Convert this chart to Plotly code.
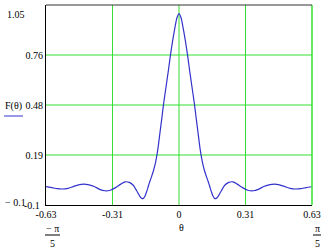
import math
import plotly.graph_objects as go

# ---- data ----
theta = [-0.628, -0.600, -0.575, -0.550, -0.525, -0.500, -0.475, -0.450, -0.425,
         -0.400, -0.375, -0.350, -0.325, -0.300, -0.275, -0.255, -0.235, -0.215,
         -0.200, -0.185, -0.176, -0.168, -0.160, -0.152, -0.145, -0.137, -0.130,
         -0.120, -0.110, -0.100, -0.090, -0.080, -0.073, -0.060, -0.050, -0.040,
         -0.030, -0.020, -0.010, 0.000,
         0.010, 0.020, 0.030, 0.040, 0.050, 0.060, 0.073, 0.080, 0.090, 0.100,
         0.110, 0.120, 0.130, 0.137, 0.145, 0.152, 0.160, 0.168, 0.176, 0.185,
         0.200, 0.215, 0.235, 0.255, 0.275, 0.300, 0.325, 0.350, 0.375, 0.400,
         0.425, 0.450, 0.475, 0.500, 0.525, 0.550, 0.575, 0.600, 0.628]
F = [0.006, 0.000, -0.006, -0.008, -0.004, 0.006, 0.016, 0.020, 0.016,
     0.006, -0.010, -0.018, -0.015, 0.000, 0.020, 0.033, 0.030, 0.012,
     -0.018, -0.050, -0.062, -0.062, -0.047, -0.020, 0.008, 0.038, 0.062,
     0.100, 0.150, 0.220, 0.315, 0.410, 0.480, 0.590, 0.675, 0.765,
     0.845, 0.915, 0.975, 1.000,
     0.975, 0.915, 0.845, 0.765, 0.675, 0.590, 0.480, 0.410, 0.315, 0.220,
     0.150, 0.100, 0.062, 0.038, 0.008, -0.020, -0.047, -0.062, -0.062, -0.050,
     -0.018, 0.012, 0.030, 0.033, 0.020, 0.000, -0.015, -0.018, -0.010, 0.006,
     0.016, 0.020, 0.016, 0.006, -0.004, -0.008, -0.006, 0.000, 0.005]

x_range = [-math.pi / 5, math.pi / 5]
y_range = [-0.1, 1.05]
x_tick_vals = [-math.pi / 5, -math.pi / 10, 0, math.pi / 10, math.pi / 5]
x_tick_text = ["-0.63", "-0.31", "0", "0.31", "0.63"]
y_tick_vals = [0.1875, 0.475, 0.7625]
y_tick_text = ["0.19", "0.48", "0.76"]

W, H = 327, 252
L, R, T, B = 46, 15, 5, 47
PW, PH = W - L - R, H - T - B

def px(x):
    return (x - L) / PW

def py(y):
    return (H - B - y) / PH

FONT = dict(family="Liberation Serif", size=10, color="black")
CURVE = "#3333cc"
GRID = "#33e033"

fig = go.Figure()
fig.add_trace(go.Scatter(x=theta, y=F, mode="lines",
                         line=dict(color=CURVE, width=1.2, shape="spline", smoothing=0.6),
                         showlegend=False, hoverinfo="skip"))

fig.update_layout(
    width=W, height=H,
    margin=dict(l=L, r=R, t=T, b=B),
    paper_bgcolor="white", plot_bgcolor="white",
    font=FONT,
    xaxis=dict(range=x_range, tickvals=x_tick_vals, ticktext=x_tick_text,
               showgrid=False, zeroline=False,
               showline=True, linecolor="black", linewidth=1, ticks="",
               tickfont=FONT, fixedrange=True),
    yaxis=dict(range=y_range, tickvals=y_tick_vals, ticktext=y_tick_text,
               showgrid=False, zeroline=False,
               showline=True, linecolor="black", linewidth=1, ticks="",
               tickfont=FONT, fixedrange=True),
)

shapes = []
for xv in x_tick_vals[1:-1]:
    shapes.append(dict(type="line", xref="x", yref="paper", x0=xv, x1=xv, y0=0, y1=1,
                       line=dict(color=GRID, width=1), layer="below"))
for yv in y_tick_vals:
    shapes.append(dict(type="line", xref="paper", yref="y", x0=0, x1=1, y0=yv, y1=yv,
                       line=dict(color=GRID, width=1), layer="below"))
shapes += [
    # right frame edge (green, as in the reference)
    dict(type="line", xref="paper", yref="paper", x0=1, x1=1, y0=0, y1=1,
         line=dict(color=GRID, width=1.5)),
    dict(type="line", xref="paper", yref="paper", x0=0, x1=1, y0=1, y1=1,
         line=dict(color="#333333", width=1)),
    # legend swatch under F(θ)
    dict(type="line", xref="paper", yref="paper", x0=px(4), x1=px(23), y0=py(116), y1=py(116),
         line=dict(color=CURVE, width=1)),
    # fraction bars
    dict(type="line", xref="paper", yref="paper", x0=px(45), x1=px(60), y0=py(235), y1=py(235),
         line=dict(color="black", width=1)),
    dict(type="line", xref="paper", yref="paper", x0=px(313), x1=px(321), y0=py(235), y1=py(235),
         line=dict(color="black", width=1)),
]
fig.update_layout(shapes=shapes)

def ann(text, x, y):
    fig.add_annotation(text=text, xref="paper", yref="paper", x=px(x), y=py(y),
                       xanchor="center", yanchor="middle", showarrow=False, font=FONT)

ann("1.05", 16, 14)
ann("F(θ)", 13.5, 106)
ann("− 0.1", 15, 202.5)
ann("-0.1", 32, 205)
ann("θ", 181.7, 227.3)
ann("− π", 52, 228)
ann("5", 52.5, 243)
ann("π", 317, 228)
ann("5", 317, 243)

fig.write_html("out.html")
